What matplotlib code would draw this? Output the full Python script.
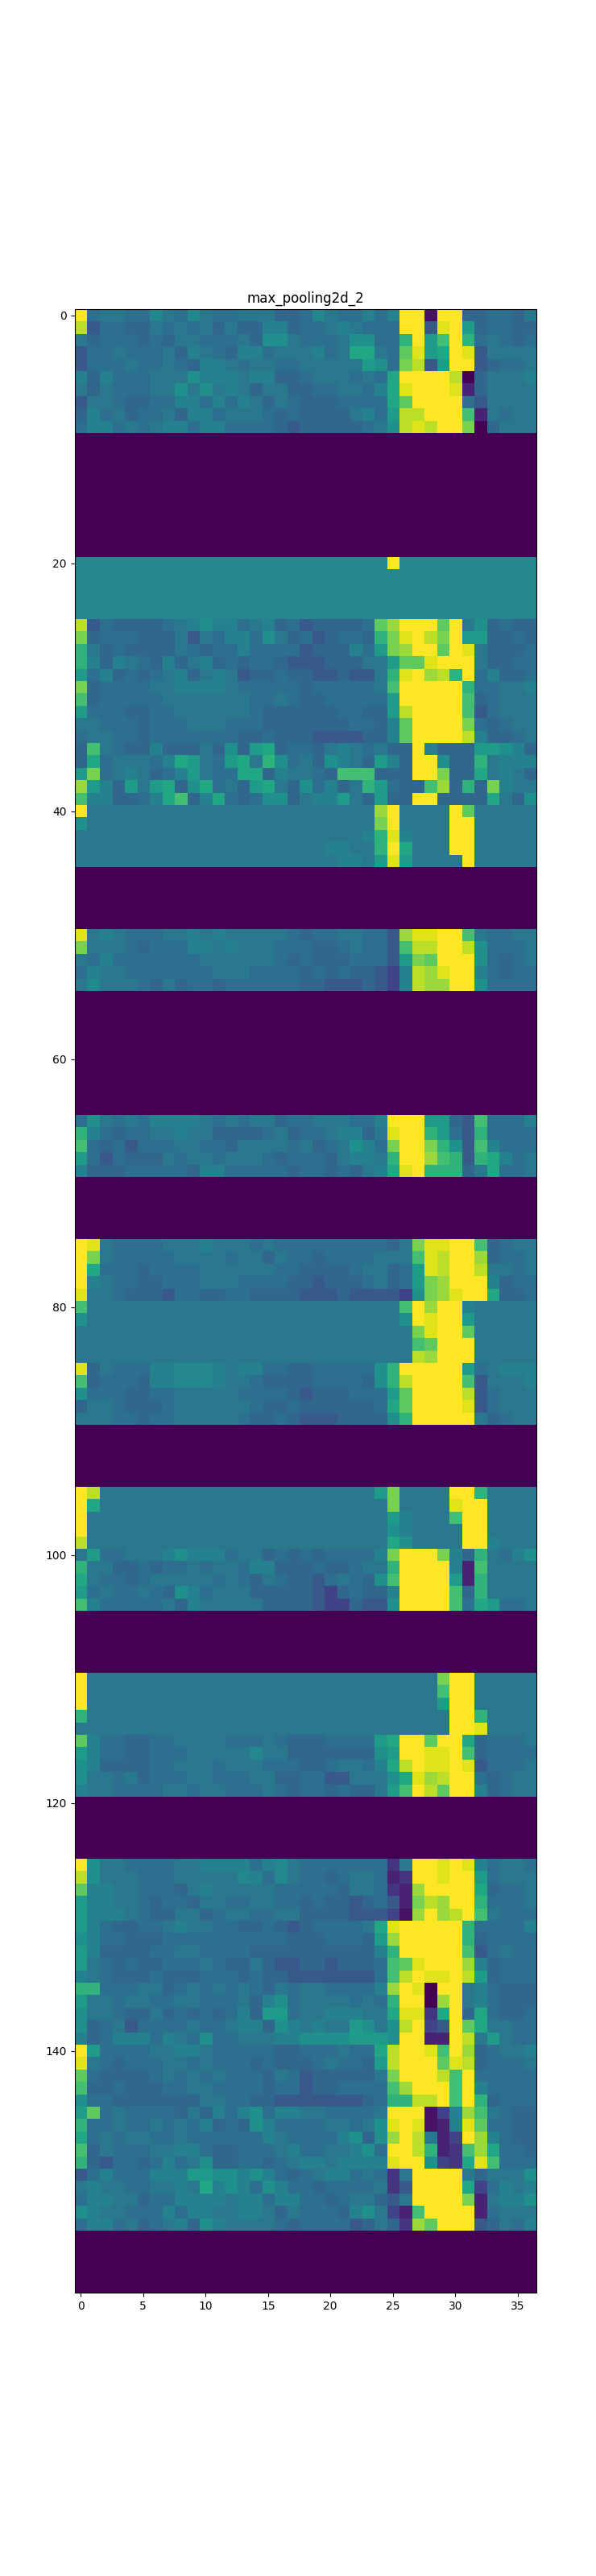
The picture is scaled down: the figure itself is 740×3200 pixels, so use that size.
import numpy as np
import matplotlib
matplotlib.use("Agg")
import matplotlib.pyplot as plt

TITLE = "max_pooling2d_2"
N_ROWS = 160
N_COLS = 37
X_TICKS = [0, 5, 10, 15, 20, 25, 30, 35]
Y_TICKS = [0, 20, 40, 60, 80, 100, 120, 140]

# Cell values. One letter per cell, from the level table below;
# a capital letter adds 0.025. Rows not listed below are all zero.
LEVEL_NAMES = "abcdefghijklmnopqrstu"
LEVEL_VALUES = [0.0, 0.05, 0.1, 0.15, 0.2, 0.28, 0.33, 0.365, 0.40, 0.44, 0.5,
                0.55, 0.6, 0.65, 0.7, 0.75, 0.8, 0.85, 0.9, 0.95, 1.0]

rows_000 = [
    "uhiih hJihJ ihhii igghJ ihhjh juubu ugghh gi",
    "sfhhg gihih igigg jjghh ijihh huuft ulghh gg",
    "ighhh ghgii hhhig kkihh hikkh hnulo unhih gh",
    "fhhih hhigj ihgjj hiiij himmi hptlm utfii ii",
    "fhhhi hhihg jjihi ihhii iiilk hqsfl uufgh hi",
    "jgjhh hiiik jjjij jgghi iihih muuuu sagii ij",
    "igihh hiiki kijig iiggh hiihj mtuuu tcgii ii",
    "fiihg ghhjj hjhji gihgg ghhhh mpuuu uhfii ii",
    "gjhig hhigj jhiii hghgg ggijh lssuu uocih ii",
    "hjjhi hijjh jjhhh hgfgg ggghi kstsu uqagi ii",
]
rows_020 = [
    "JJJJJ JJJJJ JJJJJ JJJJJ JJJJJ uJJJJ JJJJJ JJ",
    "JJJJJ JJJJJ JJJJJ JJJJJ JJJJJ JJJJJ JJJJJ JJ",
    "JJJJJ JJJJJ JJJJJ JJJJJ JJJJJ JJJJJ JJJJJ JJ",
    "JJJJJ JJJJJ JJJJJ JJJJJ JJJJJ JJJJJ JJJJJ JJ",
    "JJJJJ JJJJJ JJJJJ JJJJJ JJJJJ JJJJJ JJJJJ JJ",
    "sfhgg gghij kjjhi jghfg ggghp ruuup uikgh gg",
    "qghhh gggif ihjjh kighf ghhgn qtusq ullgg hg",
    "nighg gggih ghhjh hhhfg ggjhl qruup utigg gh",
    "njgji hgjgi jghgh hgfff gggii lpptu uuigg hh",
    "lhjgh ghijg ijifg ghggf fgffi nturs nuhjg gh",
    "qghhh hiijj jjihh hhhgh hhhhi ouuuu unhhi ij",
    "oghhh hhiii iiiih hihgg hhhhh luuuu uoghi ii",
    "lhhhg ghhii iiiih ggggg ghhgg lsuuu uofhi ii",
    "iihhh ghhhi iihhh ggggg gghhg jpuuu uqhgh ii",
    "hiihh ghhhh hhhgg hgggf fffgg jpuuu usjgg hi",
    "goihg gjggg igkgl mghhg ijihi ggujg ggllk jg",
    "gmhii ihjml ihlmi nkhig kjigl jguuk ggnij jj",
    "lqhij ighjl ihhmm gjiih gooog gguuq ggmij ig",
    "rljgl ilmgk mhigl migkh jginl hggor gngqj ii",
    "ojjgg hjmog jmhgh kkgij jligl gguug gggmi gk",
    "uiiii iiiii iiiii iiiii iiiir uiiii upiii ii",
    "kiiii iiiii iiiii iiiii iiiiq uiiii uuiii ii",
    "iiiii iiiii iiiii iiiii iiijn tjiii uuiii ii",
    "iiiii iiiii iiiii iiiii jjiin umiii uuiii ii",
    "iiiii iiiii iiiii iiiii ijjil tliii iuiii ii",
]
rows_050 = [
    "tijih hhiij ijiii iihgh hiihh frttu uoihh ii",
    "qiiih ghhhj jijii ihhhg ghihh fossu uskhh hi",
    "ihjhh hhhhh iiiii ihghg gghhh flqpu uukhg hi",
    "hjiih hhhhh hiiih hhhgh ghggf ejsrt uujhg hh",
    "iJiii hgigh hghhh hhhgg fffgf ejsrr uukhh hh",
]
rows_065 = [
    "hkihi hjjjj ihihi ighhi iihhj uuull gfohh hj",
    "njhgh hiiji igggg highh ijjgi tuunl hfnhh hh",
    "ohghf hhhii hhgii iihig hikjh quuqn kfojh hh",
    "lhfhg ggihi ihiii hghhh gijji nuuro nfnmj hi",
    "jgggh hhhhg jjhhh hhghh ghgij mtunn ngimh hi",
]
rows_075 = [
    "utihh hhiii jiiih ihhhh hhhhh giqtt uuogh ii",
    "uqihh hhhii iihii gihhg hhhhi iiots uurgh hi",
    "umhhh ghhhh iiiii ihhgg gghii ghlts uusii hi",
    "ujihh gghhh iiihh hhggf ggghi ghlqr uuujg hh",
    "tiihg ggfhh gghhg gggff fgfff fekqr tuumg gh",
    "oiiii iiiii iiiii iiiii iiiii iouru ujiii ii",
    "kiiii iiiii iiiii iiiii iiiii ikutu uliii ii",
    "iiiii iiiii iiiii iiiii iiiii iiqtu upiii ii",
    "iiiii iiiii iiiii iiiii iiiii iiopu uuiii ii",
    "iiiii iiiii iiiii iiiii iiiii iisru uuiii ii",
    "tgihh hjjJJ Jjijj hhggh hhhhk nuuuu ulhij jj",
    "oghhh gjjJJ Jjiih ggggh hhhgk nsuuu uofii ij",
    "khhhg ghhii iiihh hhgfg gghhh lpuuu usfhi ii",
    "giihg gghii iiiih gghgg ggggh mpuuu utfhi ii",
    "iiihh ghhii iiihg ghgff fgggg knuuu uuigh ii",
]
rows_095 = [
    "usiii iiiii iiiii iiiii iiiil qiiii uunii ii",
    "umiii iiiii iiiii iiiii iiiii qiiii tuuii ii",
    "uiiii iiiii iiiii iiiii iiiii ljiii ouuii ii",
    "uiiii iiiii iiiii iiiii iiiii kjiii iuuii ii",
    "siiii iiiii iiiii iiiii iiiii mkiii iuuji ii",
    "ilhhi iijkj jjhii ghghg hhhhj quuuq jgnih jk",
    "niigg hghhi hiihj jgggh gghii nuuuu jcoii ii",
    "mihhg hiiii ihihg ihggf hihgk ouuuu lcnii ii",
    "lhihh ihgkj hiiig ggggf eghgg juuuu ognii ii",
    "ojhhh hhigj iiiii ggggf eegff kuuuu ohmlh hi",
]
rows_110 = [
    "uiiii iiiii iiiii iiiii iiiii iiiiq uuiii ii",
    "uiiii iiiii iiiii iiiii iiiii iiiio uuiii ii",
    "uiiii iiiii iiiii iiiii iiiii iiiil uuiii ii",
    "niiii iiiii iiiii iiiii iiiii iiiii uunii ii",
    "iiiii iiiii iiiii iiiii iiiii iiiii uutii ii",
    "pjhhg ghhii iihhh ihggg hhhhl muupu umghh hi",
    "ljhhg ghhhi iiiiJ iiggg ggggk luutt uoghh hh",
    "kjggg ghhii ihiii hhhgg hiihj msutt utfhh hi",
    "kiihi ghhhi ihhhi igghh ffiii kmtrs uuhgh ii",
    "jiihh hhiih iihhh ihghh ghggi lousp uujgh ii",
]
rows_125 = [
    "ukiih hhhii jjjjh jJihh hhhhh diuut utjhi ih",
    "skiii hhhii iiiJj hJihh ghiih cduut uulhi ii",
    "pjjii hhhgi jiiii ihhhh hgiih dcruu uumgh hi",
    "ljjii hghhg iihhi ihhgh ggfgh fcqsr uunhh hi",
    "ljjji hggii ghiih hiigg ggfff ebrur suoih hh",
    "ljhgg hhiji ihhgg hgfgh hhhim tuuuu unhhh hj",
    "kjhhg gghhh hhhhh hhggg hhhgl ruuuu unghh hh",
    "ljggg ghhii hhhhg ggggg ggggj nuuuu uofhi hh",
    "lihgh gghhh ihggi gffgg fgggh optuu urjgh hh",
    "jihgg ghggg hhhgh ggfff ffffh osutt uslgh hh",
    "nnhhh iighi hihih gihii hhhhj rutau uijhg gg",
    "liihi ihhii hhhig jkhii iihih nuuar uijhg gg",
    "kiihg gighg hghjg llhii jjjii mttdm ugmhg gh",
    "kghif hhhhi hhijj gkjij iilki ksuef upmii hh",
    "jghjj jhjih khhii ijjkk kklll kuucc usili hh",
    "ulhhh hiijj ihhhh hgghh hihhm suuto urghi ij",
    "tihgh hhiih ihhhg hgggh ihhgl suuup tsghh hi",
    "phggg ghihi hihhh gihfg ggggi quuus ouhhh hh",
    "ogghg gghhi ihhhh ghhfg ghhhh oruuu oujhh hh",
    "khhgg ggggg iihhg gffff fffgh nnssu oungh hh",
    "lphih hhhgi gjhjk hjjii hhhhi uuube jroih gg",
    "nhhih hihih jghgk jhhhh iihik tutbc jtphh gg",
    "mhihi ihhih hhhhh jihhh hjkgk rusic eurjh gg",
    "ogihh hiijj hgghh hijhh iijkh uusnc dormh hg",
    "ngfhh ghjhi kgghh ghijj ijjjj tuuke dmtoh hh",
    "fhjhh hjjjl lkkjk jhghi jjhih diuuu uigii ik",
    "ijiih hiiji mjkjh kjhhg hhhhi dfuuu umehj ij",
    "hjjii ghhjj jjijj hjjhh ghiig fiuuu uqcij jk",
    "kjiih hhjhj jiijj igihh hgjki ecouu uuchi ii",
    "hjjhi ghijg kjiii ihghh hhfgi gdrpu uufgi hj",
]

blocks = {
    0: rows_000, 20: rows_020, 50: rows_050, 65: rows_065, 75: rows_075,
    95: rows_095, 110: rows_110, 125: rows_125,
}


def decode(text):
    out = []
    for ch in text.replace(" ", ""):
        base = LEVEL_VALUES[LEVEL_NAMES.index(ch.lower())]
        out.append(base + (0.025 if ch.isupper() else 0.0))
    return out


grid = np.zeros((N_ROWS, N_COLS))
for start, rows in blocks.items():
    for i, text in enumerate(rows):
        grid[start + i] = decode(text)

fig = plt.figure(figsize=(7.4, 32), dpi=100)
ax = fig.add_subplot(111)
ax.set_title(TITLE)
ax.grid(False)
ax.imshow(grid, aspect="auto", cmap="viridis", vmin=0, vmax=1, interpolation="nearest")
ax.set_xticks(X_TICKS)
ax.set_yticks(Y_TICKS)
fig.savefig("out.png", dpi=100)
